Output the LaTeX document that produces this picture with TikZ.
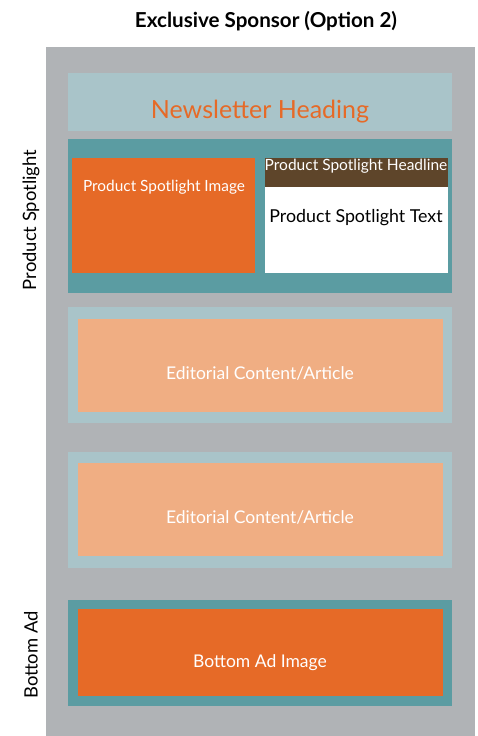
\documentclass[tikz,border=0pt]{standalone}
\usepackage{fontspec}
\setmainfont{Lato}
\usepackage{xcolor}
\definecolor{pagegray}{HTML}{B0B3B6}
\definecolor{paleteal}{HTML}{A9C4C9}
\definecolor{deepteal}{HTML}{5B9CA2}
\definecolor{adorange}{HTML}{E66A27}
\definecolor{softorange}{HTML}{F0AE83}
\definecolor{darkbrown}{HTML}{5E452A}
\tikzset{
    block/.style={anchor=north west, inner sep=0pt, outer sep=0pt},
    whitetext/.style={text=white, font=\fontsize{17.5}{20}\selectfont},
    sidetext/.style={rotate=90, font=\fontsize{18.4}{21}\selectfont}
}

\begin{document}
\begin{tikzpicture}[x=1pt,y=-1pt]
    \useasboundingbox (0,0) rectangle (478,736);

    % Draw the page background
    \node[block, fill=pagegray, minimum width=429pt, minimum height=689pt] (page) at (46,47) {};

    % Draw the newsletter heading
    \node[block, fill=paleteal, minimum width=384pt, minimum height=58pt] (heading) at (68,73) {};
    \node[text=adorange, font=\fontsize{25}{29}\selectfont] (headingtext) at (260,112) {Newsletter Heading};

    % Draw the product spotlight
    \node[block, fill=deepteal, minimum width=384pt, minimum height=154pt] (spot) at (68,139) {};
    \node[block, fill=adorange, minimum width=183pt, minimum height=115pt] (spotimage) at (72,158) {};
    \node[block, fill=darkbrown, minimum width=183pt, minimum height=29pt] (spothead) at (265,158) {};
    \node[block, fill=white, minimum width=183pt, minimum height=86pt] (spottext) at (265,187) {};
    \node[whitetext, font=\fontsize{15.4}{18}\selectfont] (spotimagelabel) at (164,187) {Product Spotlight Image};
    \node[whitetext, font=\fontsize{15.5}{18}\selectfont] (spotheadlabel) at (356,166) {Product Spotlight Headline};
    \node[font=\fontsize{17.8}{21}\selectfont] (spottextlabel) at (356,218) {Product Spotlight Text};

    % Draw the editorial blocks
    \node[block, fill=paleteal, minimum width=384pt, minimum height=116pt] (edit1) at (68,307) {};
    \node[block, fill=softorange, minimum width=365pt, minimum height=93pt] (edit1in) at (78,319) {};
    \node[whitetext] (edit1label) at (260,373) {Editorial Content/Article};

    \node[block, fill=paleteal, minimum width=384pt, minimum height=116pt] (edit2) at (68,452) {};
    \node[block, fill=softorange, minimum width=365pt, minimum height=93pt] (edit2in) at (78,463) {};
    \node[whitetext] (edit2label) at (260,517) {Editorial Content/Article};

    % Draw the bottom ad
    \node[block, fill=deepteal, minimum width=384pt, minimum height=106pt] (bottom) at (68,600) {};
    \node[block, fill=adorange, minimum width=365pt, minimum height=87pt] (bottomin) at (78,609) {};
    \node[whitetext] (bottomlabel) at (260,663) {Bottom Ad Image};

    % Label the sections
    \node[font=\bfseries\fontsize{20.6}{24}\selectfont] (title) at (266,21) {Exclusive Sponsor (Option 2)};
    \node[sidetext] (spotside) at (31,220) {Product Spotlight};
    \node[sidetext] (bottomside) at (31,655) {Bottom Ad};
\end{tikzpicture}
\end{document}
